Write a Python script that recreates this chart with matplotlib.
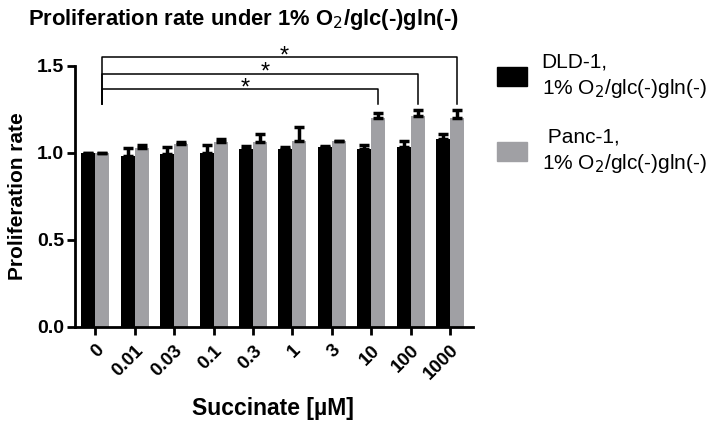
import numpy as np
import matplotlib.pyplot as plt
from matplotlib.patches import Patch

plt.rcParams['font.family'] = ['Liberation Sans', 'DejaVu Sans']

# Datos
concentraciones = ['0', '0.01', '0.03', '0.1', '0.3', '1', '3', '10', '100', '1000']
dld1 = [1.00, 0.98, 0.99, 1.00, 1.02, 1.02, 1.03, 1.02, 1.03, 1.08]
dld1_err = [0.00, 0.045, 0.04, 0.045, 0.02, 0.015, 0.01, 0.025, 0.035, 0.03]
panc1 = [1.00, 1.025, 1.05, 1.06, 1.06, 1.07, 1.07, 1.20, 1.21, 1.20]
panc1_err = [0.00, 0.02, 0.01, 0.02, 0.05, 0.08, 0.00, 0.03, 0.035, 0.045]

# Comparaciones significativas (indice de grupo)
comparaciones = [7, 8, 9]
altura_brackets = [1.365, 1.455, 1.548]

color_gris = '#a0a0a4'
x = np.arange(len(concentraciones))
ancho = 0.355

fig = plt.figure(figsize=(7.18, 4.23), dpi=100)
ax = fig.add_axes([0.1045, 0.2277, 0.554, 0.617])

ax.bar(x - ancho / 2, dld1, ancho, color='black')
ax.bar(x + ancho / 2, panc1, ancho, color=color_gris)
ax.errorbar(x - ancho / 2, dld1, yerr=[np.zeros(len(x)), dld1_err], fmt='none',
            ecolor='black', elinewidth=2.5, capsize=3.5, capthick=2.5)
ax.errorbar(x + ancho / 2, panc1, yerr=[np.zeros(len(x)), panc1_err], fmt='none',
            ecolor='black', elinewidth=2.5, capsize=3.5, capthick=2.5)

# Brackets de significancia
x0 = x[0] + ancho / 2
for idx, h in zip(comparaciones, altura_brackets):
    x1 = x[idx] + ancho / 2
    ax.plot([x0, x0, x1, x1], [1.277, h, h, 1.277], color='black', lw=1.1,
            clip_on=False)
    ax.text((x0 + x1) / 2 + 0.12, h - 0.03, '*', ha='center', va='baseline',
            fontsize=17, clip_on=False)

ax.set_xlim(-0.51, 9.57)
ax.set_ylim(0, 1.5)
ax.set_yticks([0.0, 0.5, 1.0, 1.5])
ax.set_yticklabels(['0.0', '0.5', '1.0', '1.5'], fontsize=14, fontweight='bold')
ax.set_xticks(x)
ax.set_xticklabels(concentraciones, rotation=45, ha='right', rotation_mode='anchor',
                   fontsize=13.5, fontweight='bold')

for lado in ['top', 'right']:
    ax.spines[lado].set_visible(False)
for lado in ['left', 'bottom']:
    ax.spines[lado].set_linewidth(2)
ax.tick_params(width=2, length=6)
ax.tick_params(axis='x', pad=5)
ax.tick_params(axis='y', pad=2)

ax.set_ylabel('Proliferation rate', fontsize=15, fontweight='bold')
ax.yaxis.set_label_coords(-0.121, 0.5)
ax.set_xlabel('Succinate [µM]', fontsize=16.5, fontweight='bold')
ax.xaxis.set_label_coords(0.498, -0.27)

fig.text(0.039, 0.955, 'Proliferation rate under 1% O$_2$/glc(-)gln(-)',
         fontsize=15.8, fontweight='bold', va='center', ha='left')

# Leyenda
handles = [Patch(color='black'), Patch(color=color_gris)]
labels = ['DLD-1,\n1% O$_2$/glc(-)gln(-)', ' Panc-1,\n1% O$_2$/glc(-)gln(-)']
leg = fig.legend(handles, labels, loc='upper left', bbox_to_anchor=(0.666, 0.921),
                 frameon=False, fontsize=15, handlelength=1.45, handleheight=1.0,
                 labelspacing=1.3, handletextpad=0.7)
for t in leg.get_texts():
    t.set_linespacing(1.35)

plt.savefig('out.png', dpi=100)
